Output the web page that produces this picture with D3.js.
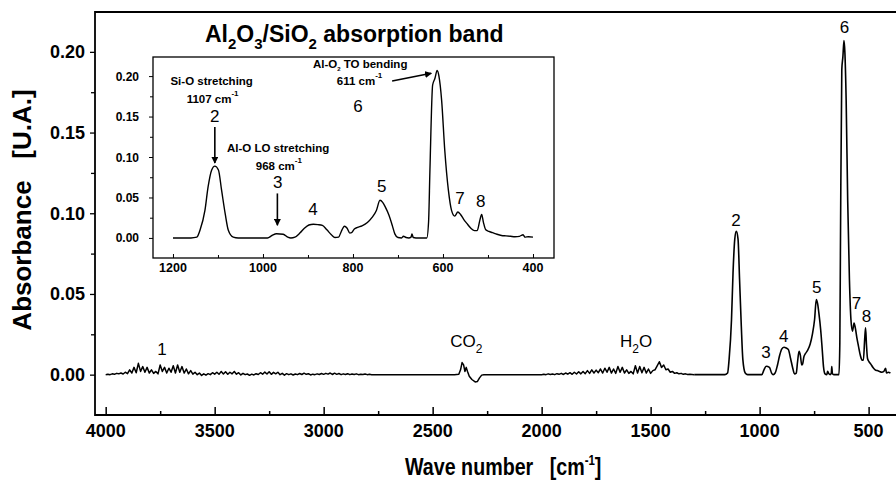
<!DOCTYPE html>
<html>
<head>
<meta charset="utf-8">
<script src="https://cdn.jsdelivr.net/npm/d3@7"></script>
<style>
  body { margin: 0; background: #fff; }
  text { font-family: "Liberation Sans", Arial, Helvetica, sans-serif; fill: #000; }
</style>
</head>
<body>
<svg id="chart" width="896" height="484"></svg>
<script>
// FTIR absorbance spectrum of an Al2O3/SiO2 film: [wavenumber cm-1, absorbance]
// Survey part: OH noise, CO2 doublet and H2O bending noise (4000 - 1300 cm-1)
const surveySpectrum = [
  [4000,0],[3990,0.0003],[3980,0],[3970,0.0005],[3960,0.0002],[3950,0.0008],[3940,0.0005],[3930,0.001],
  [3920,0.0004],[3910,0.0015],[3900,0.0006],[3890,0.003],[3880,0.001],[3870,0.0045],[3860,0.0012],[3850,0.007],
  [3840,0.002],[3830,0.005],[3820,0.0015],[3810,0.0045],[3800,0.001],[3790,0.003],[3780,0.0008],[3770,0.002],
  [3760,0.0005],[3750,0.006],[3740,0.002],[3730,0.0045],[3720,0.001],[3710,0.004],[3700,0.0015],[3690,0.0055],
  [3680,0.001],[3670,0.006],[3660,0.0015],[3650,0.005],[3640,0.001],[3630,0.0035],[3620,0.0005],[3610,0.0025],
  [3600,0.0003],[3590,0.0015],[3580,0],[3570,0.001],[3560,-0.0005],[3550,0.0005],[3540,-0.0003],[3530,0.0006],
  [3520,0],[3510,0.0012],[3500,0.0003],[3490,0.0015],[3480,0.0002],[3470,0.002],[3460,0.0004],[3450,0.0018],
  [3440,0.0002],[3430,0.0015],[3420,0.0005],[3410,0.002],[3400,0.0003],[3390,0.0012],[3380,-0.0002],[3370,0.0008],
  [3360,0],[3350,0.0004],[3340,-0.0004],[3330,0.0003],[3320,-0.0002],[3310,0.0006],[3300,0.0001],[3290,0.0012],
  [3280,0.0003],[3270,0.0016],[3260,0.0004],[3250,0.0018],[3240,0.0002],[3230,0.0014],[3220,0.0005],[3210,0.0015],
  [3200,0],[3190,0.0008],[3180,-0.0003],[3170,0.0006],[3160,0],[3150,0.0005],[3140,-0.0002],[3130,0.0004],
  [3120,0],[3110,0.0007],[3100,0.0001],[3090,0.0009],[3080,0.0002],[3070,0.0006],[3060,-0.0002],[3050,0.0003],
  [3040,0],[3030,0.0005],[3020,0.0001],[3010,0.0007],[3000,0.0002],[2990,0.0008],[2980,0.0003],[2970,0.001],
  [2960,0.0001],[2950,0.0009],[2940,0.0002],[2930,0.0007],[2920,0],[2910,0.0005],[2900,0.0001],[2890,0.0006],
  [2880,0],[2870,0.0004],[2860,0.0001],[2850,0.0005],[2840,0],[2830,0.0003],[2820,0.0001],[2810,0.0004],
  [2800,0],[2790,0.0002],[2780,0],[2400,0],[2380,0.0002],[2372,0.003],[2365,0.0075],[2358,0.006],
  [2352,0.002],[2346,0.0045],[2340,0.002],[2332,-0.001],[2320,-0.003],[2305,-0.0045],[2295,-0.0043],[2285,-0.002],
  [2275,-0.0003],[2265,0],[2000,0],[1990,0.0003],[1980,0],[1970,0.0005],[1960,0.0001],[1950,0.0004],
  [1940,0],[1930,0.0006],[1920,0.0002],[1910,0.0008],[1900,0.0001],[1890,0.001],[1880,0.0003],[1870,0.0012],
  [1860,0.0002],[1850,0.0015],[1840,0.0004],[1830,0.0018],[1820,0.0005],[1810,0.002],[1800,0.0006],[1790,0.0025],
  [1780,0.0008],[1770,0.003],[1760,0.001],[1750,0.0028],[1740,0.0012],[1730,0.0035],[1720,0.001],[1710,0.004],
  [1700,0.0015],[1690,0.0045],[1680,0.001],[1670,0.0035],[1660,0.0008],[1650,0.005],[1640,0.0015],[1630,0.0045],
  [1620,0.001],[1610,0.003],[1600,0.0008],[1590,0.002],[1580,0.0005],[1570,0.0055],[1560,0.001],[1550,0.005],
  [1540,0.0012],[1530,0.0045],[1520,0.001],[1510,0.0035],[1500,0.0008],[1490,0.0025],[1480,0.003],[1470,0.0055],
  [1460,0.008],[1450,0.0045],[1440,0.006],[1430,0.003],[1420,0.0035],[1410,0.0015],[1400,0.002],[1390,0.0008],
  [1380,0.0012],[1370,0.0005],[1360,0.0008],[1350,0.0002],[1340,0.0005],[1330,0.0001],[1320,0.0003],[1300,0]
];

// Al2O3/SiO2 absorption band (1300 - 400 cm-1)
const bandSpectrum = [
  [1300,0],[1200,0],[1160,0],[1147,0.001],[1140,0.0095],[1129,0.034],[1122,0.063],[1114,0.084],[1107,0.0888],
  [1099,0.084],[1092,0.059],[1084,0.030],[1077,0.0095],[1066,0.001],[1055,0],[990,0],[980,0.003],
  [970,0.0052],[955,0.0045],[945,0.001],[938,0],[929,0.001],[918,0.006],[908,0.012],[898,0.016],
  [888,0.017],[878,0.0165],[868,0.0155],[858,0.010],[848,0.004],[840,0.0005],[832,0.001],[826,0.008],
  [819,0.0145],[813,0.012],[807,0.006],[803,0.0065],[797,0.011],[790,0.013],[780,0.015],[768,0.019],
  [758,0.025],[748,0.034],[740,0.0465],[734,0.044],[728,0.038],[720,0.028],[713,0.016],[707,0.005],
  [700,0.0005],[692,0],[688,0.002],[682,0.0005],[676,0],[671,0.001],[669,0.005],[666,0.0005],
  [660,0],[636,0],[632,0.02],[629,0.084],[623,0.189],[618,0.197],[613,0.207],[609,0.200],
  [603,0.170],[596,0.108],[588,0.059],[581,0.034],[574,0.027],[567,0.032],[561,0.029],[554,0.023],
  [547,0.018],[538,0.012],[530,0.009],[524,0.009],[518,0.022],[514,0.029],[510,0.019],[505,0.010],
  [498,0.008],[490,0.0065],[480,0.0045],[470,0.003],[460,0.0025],[450,0.002],[440,0.0015],[430,0.002],
  [422,0.004],[418,0.001],[410,0.0015],[400,0.001]
];

// Axis ticks
const mainTicksX = [4000, 3500, 3000, 2500, 2000, 1500, 1000, 500];
const mainMinorX = [3750, 3250, 2750, 2250, 1750, 1250, 750];
const mainTicksY = [0, 0.05, 0.10, 0.15, 0.20];
const mainMinorY = [0.025, 0.075, 0.125, 0.175];
const insetTicksX = [1200, 1000, 800, 600, 400];
const insetMinorX = [1100, 900, 700, 500];
const insetTicksY = [0, 0.05, 0.10, 0.15, 0.20];
const insetMinorY = [0.025, 0.075, 0.125, 0.175];

// Band numbers on the survey spectrum: [text, wavenumber, absorbance at label baseline]
const mainLabels = [
  ["1", 3742, 0.0122], ["2", 1109, 0.0921], ["3", 971, 0.0103], ["4", 889, 0.0203],
  ["5", 738, 0.0506], ["6", 611, 0.2117], ["7", 556, 0.0407], ["8", 510, 0.0327]
];
// Gas-phase labels: [main, subscript, tail, wavenumber, absorbance]
const gasLabels = [
  ["CO", "2", "", 2345, 0.0172],
  ["H", "2", "O", 1567, 0.0172]
];
// Band numbers in the magnified view
const insetNumbers = [
  ["2", 1107, 0.1432], ["3", 967, 0.0615], ["4", 889, 0.0281], ["5", 736, 0.0566],
  ["6", 789, 0.1556], ["7", 562, 0.0417], ["8", 516, 0.038]
];
// Assignment notes: [text, superscript, wavenumber, absorbance, anchor]
const insetNotes = [
  ["Si-O stretching", null, 1114, 0.189, "middle"],
  ["1107 cm", "-1", 1112, 0.1667, "middle"],
  ["Al-O LO stretching", null, 1080, 0.106, "start"],
  ["968 cm", "-1", 1016, 0.0838, "start"],
  ["611 cm", "-1", 836, 0.189, "start"]
];
// Arrows pointing to assigned bands: [w1, a1, w2, a2]
const insetArrows = [
  [1107, 0.137, 1107, 0.0925],
  [968, 0.055, 968, 0.0157],
  [713, 0.194, 626, 0.2035]
];

const NBSP = "\u00a0";
const svg = d3.select("#chart");
svg.append("rect").attr("width", 896).attr("height", 484).attr("fill", "#fff");
const defs = svg.append("defs");

// ---------- main plot ----------
const M = { left: 95, right: 900, top: 12, bottom: 415 };
const x = d3.scaleLinear().domain([4049, 356]).range([M.left, M.right]);
const y = d3.scaleLinear().domain([-0.025, 0.2247]).range([M.bottom, M.top]);

defs.append("clipPath").attr("id", "mainClip")
  .append("rect").attr("x", M.left).attr("y", M.top)
  .attr("width", M.right - M.left).attr("height", M.bottom - M.top);

const lineLin = d3.line().x(d => x(d[0])).y(d => y(d[1]));
const lineSmooth = d3.line().x(d => x(d[0])).y(d => y(d[1])).curve(d3.curveMonotoneX);

const plot = svg.append("g").attr("clip-path", "url(#mainClip)");
plot.append("path").datum(surveySpectrum).attr("d", lineLin)
  .attr("fill", "none").attr("stroke", "#000").attr("stroke-width", 1.5).attr("stroke-linejoin", "round");
plot.append("path").datum(bandSpectrum).attr("d", lineSmooth)
  .attr("fill", "none").attr("stroke", "#000").attr("stroke-width", 1.6).attr("stroke-linejoin", "round");

// x axis: ticks pointing into the plot
const xAxis = svg.append("g").attr("transform", `translate(0,${M.bottom})`);
xAxis.call(d3.axisTop(x).tickValues(mainTicksX).tickSize(8).tickFormat(""));
xAxis.append("g").call(d3.axisTop(x).tickValues(mainMinorX).tickSize(4).tickFormat(""));
xAxis.selectAll(".domain").remove();
xAxis.selectAll("line").attr("stroke", "#000").attr("stroke-width", 1.5);
svg.append("g").selectAll("text").data(mainTicksX).join("text")
  .attr("x", d => x(d)).attr("y", 437).attr("text-anchor", "middle")
  .attr("font-size", 18).attr("font-weight", "bold").text(d => d);

// y axis: ticks pointing outward
const yAxis = svg.append("g").attr("transform", `translate(${M.left},0)`);
yAxis.call(d3.axisLeft(y).tickValues(mainTicksY).tickSize(5).tickFormat(""));
yAxis.append("g").call(d3.axisLeft(y).tickValues(mainMinorY).tickSize(4).tickFormat(""));
yAxis.selectAll(".domain").remove();
yAxis.selectAll("line").attr("stroke", "#000").attr("stroke-width", 1.3);
svg.append("g").selectAll("text").data(mainTicksY).join("text")
  .attr("x", 85).attr("y", d => y(d) + 6.5).attr("text-anchor", "end")
  .attr("font-size", 18).attr("font-weight", "bold").text(d => d3.format(".2f")(d));

// frame
svg.append("path")
  .attr("d", `M${M.right},${M.top}H${M.left}V${M.bottom}H${M.right}`)
  .attr("fill", "none").attr("stroke", "#000").attr("stroke-width", 1.8);

// band numbers
svg.append("g").selectAll("text").data(mainLabels).join("text")
  .attr("x", d => x(d[1])).attr("y", d => y(d[2])).attr("text-anchor", "middle")
  .attr("font-size", 17).text(d => d[0]);
gasLabels.forEach(g => {
  const t = svg.append("text").attr("x", x(g[3])).attr("y", y(g[4]))
    .attr("text-anchor", "middle").attr("font-size", 17);
  t.append("tspan").text(g[0]);
  t.append("tspan").attr("dy", 6).attr("font-size", 12).text(g[1]);
  if (g[2]) t.append("tspan").attr("dy", -6).text(g[2]);
});

// axis titles
svg.append("text")
  .attr("transform", `translate(31,${210}) rotate(-90)`)
  .attr("text-anchor", "middle").attr("font-size", 26).attr("font-weight", "bold")
  .text("Absorbance" + NBSP + NBSP + NBSP + "[U.A.]");
const xt = svg.append("g").attr("transform", "translate(405,475) scale(0.82,1)")
  .append("text").attr("x", 0).attr("y", 0)
  .attr("font-size", 24).attr("font-weight", "bold");
xt.append("tspan").text("Wave number" + NBSP + NBSP + NBSP + "[cm");
xt.append("tspan").attr("dy", -10).attr("font-size", 14).text("-1");
xt.append("tspan").attr("dy", 10).text("]");

// ---------- magnified inset ----------
const I = { left: 153, right: 554, top: 57, bottom: 258 };
const xi = d3.scaleLinear().domain([1244.4, 353.3]).range([I.left, I.right]);
const yi = d3.scaleLinear().domain([-0.0248, 0.2236]).range([I.bottom, I.top]);

svg.append("rect").attr("x", I.left).attr("y", I.top)
  .attr("width", I.right - I.left).attr("height", I.bottom - I.top)
  .attr("fill", "#fff").attr("stroke", "none");

const insetLine = d3.line().x(d => xi(d[0])).y(d => yi(d[1])).curve(d3.curveMonotoneX);
svg.append("path").datum(bandSpectrum.filter(d => d[0] <= 1200)).attr("d", insetLine)
  .attr("fill", "none").attr("stroke", "#000").attr("stroke-width", 1.4).attr("stroke-linejoin", "round");

const ixAxis = svg.append("g").attr("transform", `translate(0,${I.bottom})`);
ixAxis.call(d3.axisTop(xi).tickValues(insetTicksX).tickSize(4).tickFormat(""));
ixAxis.append("g").call(d3.axisTop(xi).tickValues(insetMinorX).tickSize(3).tickFormat(""));
ixAxis.selectAll(".domain").remove();
ixAxis.selectAll("line").attr("stroke", "#000");
svg.append("g").selectAll("text").data(insetTicksX).join("text")
  .attr("x", d => xi(d)).attr("y", 272).attr("text-anchor", "middle")
  .attr("font-size", 12.5).attr("font-weight", "bold").text(d => d);

const iyAxis = svg.append("g").attr("transform", `translate(${I.left},0)`);
iyAxis.call(d3.axisLeft(yi).tickValues(insetTicksY).tickSize(4).tickFormat(""));
iyAxis.append("g").call(d3.axisLeft(yi).tickValues(insetMinorY).tickSize(3).tickFormat(""));
iyAxis.selectAll(".domain").remove();
iyAxis.selectAll("line").attr("stroke", "#000");
svg.append("g").selectAll("text").data(insetTicksY).join("text")
  .attr("x", 139).attr("y", d => yi(d) + 4.5).attr("text-anchor", "end")
  .attr("font-size", 12).attr("font-weight", "bold").text(d => d3.format(".2f")(d));

svg.append("rect").attr("x", I.left).attr("y", I.top)
  .attr("width", I.right - I.left).attr("height", I.bottom - I.top)
  .attr("fill", "none").attr("stroke", "#000").attr("stroke-width", 1.3);

// inset title
const title = svg.append("text").attr("x", 205).attr("y", 42)
  .attr("font-size", 23).attr("font-weight", "bold");
[["Al", 0], ["2", 1], ["O", 0], ["3", 1], ["/SiO", 0], ["2", 1], [NBSP + "absorption band", 0]]
  .forEach((p, i, arr) => {
    const prevSub = i > 0 && arr[i - 1][1] === 1;
    const ts = title.append("tspan").text(p[0]);
    if (p[1] === 1) ts.attr("dy", 7).attr("font-size", 15);
    else if (prevSub) ts.attr("dy", -7);
  });

// band numbers and notes in the inset
svg.append("g").selectAll("text").data(insetNumbers).join("text")
  .attr("x", d => xi(d[1])).attr("y", d => yi(d[2])).attr("text-anchor", "middle")
  .attr("font-size", 17).text(d => d[0]);

insetNotes.forEach(n => {
  const t = svg.append("text").attr("x", xi(n[2])).attr("y", yi(n[3]))
    .attr("text-anchor", n[4]).attr("font-size", 11.5).attr("font-weight", "bold");
  t.append("tspan").text(n[0]);
  if (n[1]) t.append("tspan").attr("dy", -7).attr("font-size", 8).text(n[1]);
});
// Al-O2 TO bending note (subscript)
const bend = svg.append("text").attr("x", xi(889)).attr("y", yi(0.21))
  .attr("font-size", 11.5).attr("font-weight", "bold");
bend.append("tspan").text("Al-O");
bend.append("tspan").attr("dy", 3).attr("font-size", 6).text("2");
bend.append("tspan").attr("dy", -3).text(NBSP + "TO bending");

// arrows
defs.append("marker").attr("id", "arrowHead").attr("viewBox", "0 0 10 10")
  .attr("refX", 9).attr("refY", 5).attr("markerWidth", 7).attr("markerHeight", 7)
  .attr("markerUnits", "userSpaceOnUse").attr("orient", "auto")
  .append("path").attr("d", "M0,0L10,5L0,10Z").attr("fill", "#000");
svg.append("g").selectAll("line").data(insetArrows).join("line")
  .attr("x1", d => xi(d[0])).attr("y1", d => yi(d[1]))
  .attr("x2", d => xi(d[2])).attr("y2", d => yi(d[3]))
  .attr("stroke", "#000").attr("stroke-width", 1.6).attr("marker-end", "url(#arrowHead)");
</script>
</body>
</html>
